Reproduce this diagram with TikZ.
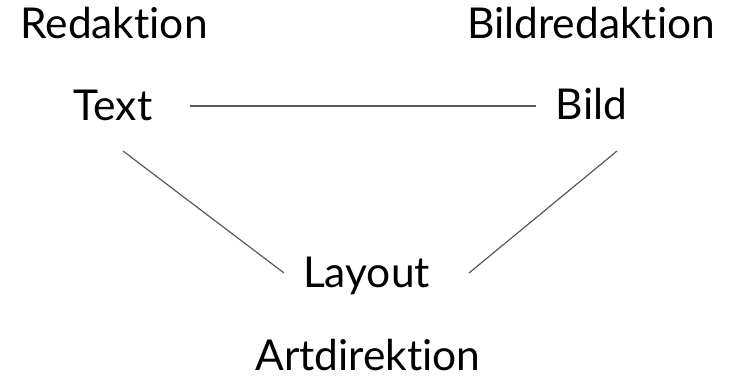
\documentclass[tikz,border=0pt]{standalone}
\usepackage{fontspec}
\setmainfont{Lato}[Ligatures=NoCommon]
\usetikzlibrary{calc}
\begin{document}
\begin{tikzpicture}[x=1pt,y=-1pt,
  lbl/.style={font=\fontsize{42.5}{50}\selectfont, inner sep=0pt, anchor=base, text=black},
  conn/.style={draw=black!65, line width=1.2pt}]
\useasboundingbox (0,0) rectangle (735,381);
\node[lbl] (redaktion) at (114,38) {Redaktion};
\node[lbl] (bildredaktion) at (591,38) {Bildredaktion};
\node[lbl] (text) at (113,120) {Text};
\node[lbl] (bild) at (591.5,119) {Bild};
\node[lbl] (layout) at (366.5,287) {Layout};
\node[lbl] (artdirektion) at (368,370) {Artdirektion};
\draw[conn] ($(text.base)+(77,-14)$) -- ($(bild.base)+(-55.5,-13)$);
\draw[conn] ($(text.base)+(10,31)$) -- ($(layout.base)+(-82.5,-14)$);
\draw[conn] ($(bild.base)+(25.5,32)$) -- ($(layout.base)+(102.5,-14)$);
\end{tikzpicture}
\end{document}
